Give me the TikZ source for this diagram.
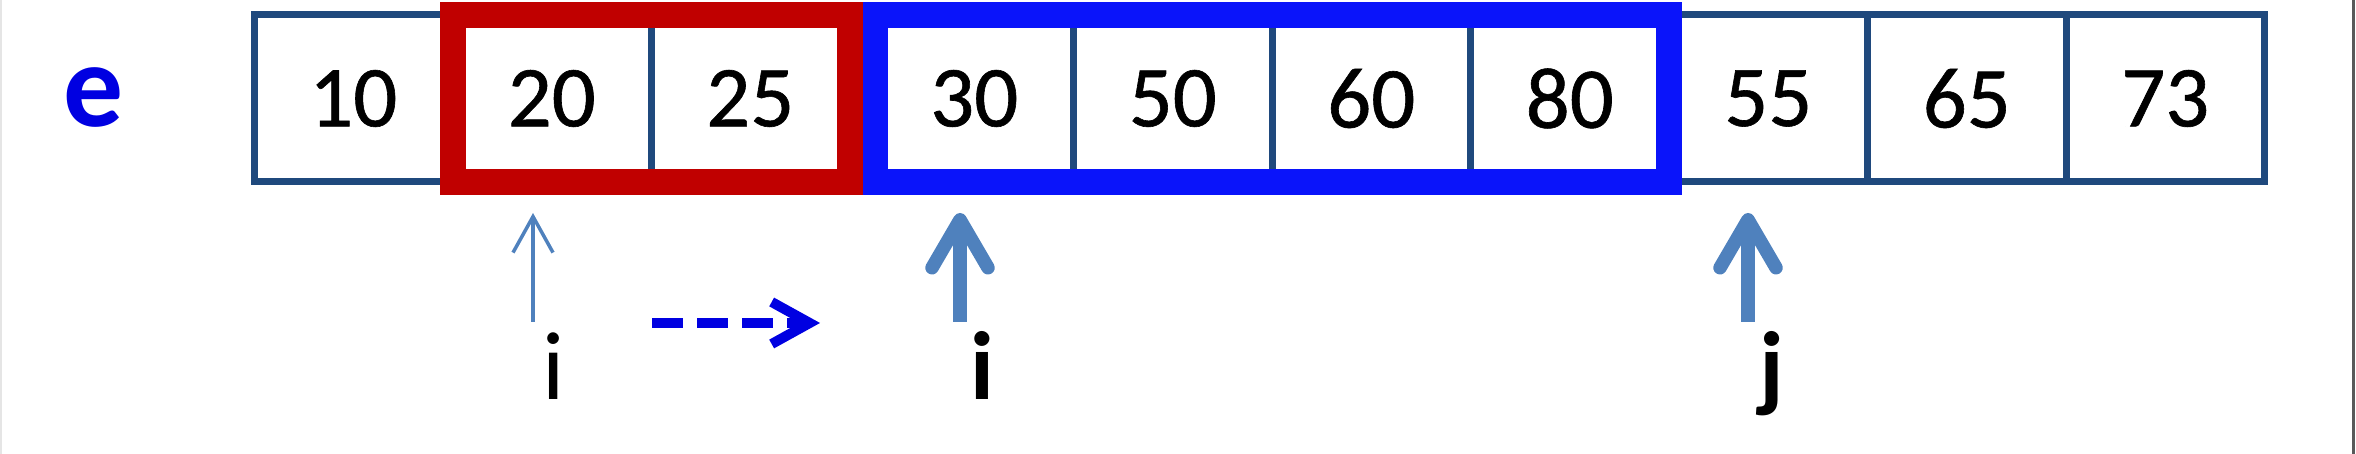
\documentclass[tikz,border=0pt]{standalone}
\usepackage{fontspec}
\setmainfont{Carlito}
\newfontfamily\cellfont{Carlito}[FakeBold=0.7]
\usetikzlibrary{arrows.meta}
\definecolor{cellline}{RGB}{31,73,125}
\definecolor{ptrblue}{RGB}{79,129,189}
\definecolor{winred}{RGB}{192,0,0}
\definecolor{winblue}{RGB}{10,20,250}
\definecolor{eblue}{RGB}{0,0,225}
\begin{document}
\begin{tikzpicture}[
		cell/.style={draw=cellline, line width=0.07cm, outer sep=0pt, inner sep=0pt,
			minimum width=1.985cm, minimum height=1.67cm, font=\cellfont\fontsize{24.7}{30}\selectfont},
		lbl/.style={anchor=base, inner sep=0pt, font=\fontsize{27.6}{33}\selectfont},
		winbox/.style={line width=0.26cm, line join=miter},
		thinptr/.style={ptrblue, line width=0.035cm, -{Straight Barb[length=0.36cm, width=0.4cm]}},
		thickptr/.style={ptrblue, line width=0.135cm, -{Straight Barb[round, length=0.48cm, width=0.56cm]}},
		moveptr/.style={eblue, line width=0.1cm, dash pattern=on 0.31cm off 0.14cm,
			-{Straight Barb[length=0.38cm, width=0.42cm]}}]
	\useasboundingbox (0, 0) rectangle (23.56, 4.54);
	\draw[black!10, line width=0.02cm] (0.01, 0) -- (0.01, 4.54);
	\draw[black!65, line width=0.03cm] (23.53, 0) -- (23.53, 4.54);

	\node[font=\fontsize{34}{40}\selectfont\bfseries, text=eblue] (arr) at (0.935, 3.56) {e};

		\foreach \v [count=\k] in {10, 20, 25}
			\node[cell] (c\k) at ({3.5325 + 1.985*(\k - 1)}, 3.555) {\v};
		\foreach \v [count=\k from 4] in {30, 50, 60, 80, 55, 65, 73}
			\node[cell] (c\k) at ({9.7425 + 1.985*(\k - 4)}, 3.555) {\v};

	\draw[winblue, winbox] (c4.north west) rectangle (c7.south east);
	\draw[winred, winbox] (c2.north west) rectangle (c3.south east);

	\node[lbl] (oldi) at (5.54, 0.54) {i};
	\node[lbl, font=\fontsize{27.6}{33}\selectfont\bfseries] (newi) at (9.82, 0.54) {i};
	\node[lbl, font=\fontsize{27.6}{33}\selectfont\bfseries] (newj) at (17.72, 0.54) {j};

	\coordinate (oldtail) at (5.33, 1.32);
	\coordinate (itail) at (9.60, 1.32);
	\coordinate (jtail) at (17.48, 1.32);
	\draw[thinptr, shorten >=0.31cm] (oldtail) -- (oldtail |- c2.south);
	\draw[thickptr, shorten >=0.31cm] (itail) -- (itail |- c4.south);
	\draw[thickptr, shorten >=0.31cm] (jtail) -- (jtail |- c8.south);

	\coordinate (stepfrom) at (6.52, 1.31);
	\coordinate (stepto) at (8.20, 1.31);
	\draw[moveptr] (stepfrom) -- (stepto);
\end{tikzpicture}
\end{document}
